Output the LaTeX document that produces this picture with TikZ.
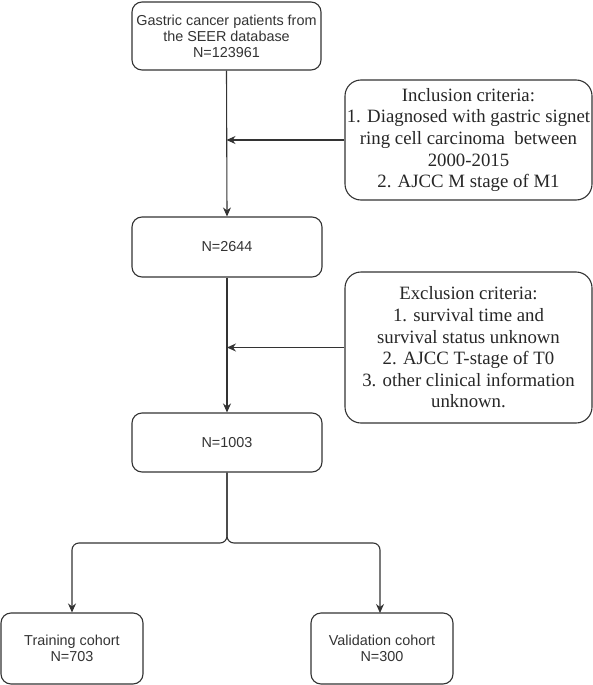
\documentclass[tikz,border=0pt]{standalone}
\usepackage{fontspec}
\setmainfont{Liberation Serif}
\newfontfamily\arialf{Liberation Sans}
\usetikzlibrary{arrows.meta}
\begin{document}
\begin{tikzpicture}[x=1pt,y=1pt,
  line width=1.1pt,
  sbox/.style={draw=black!80, rounded corners=10pt, align=center, font=\arialf\fontsize{14.4}{16}\selectfont, text=black!80, inner sep=0pt},
  cbox/.style={draw=black!80, rounded corners=16pt, align=center, font=\fontsize{18.8}{21.6}\selectfont, text=black!85, inner sep=0pt},
  arr/.style={draw=black!80, -{Stealth[length=9pt,width=8pt]}},
  ln/.style={draw=black!80}]
\useasboundingbox (0,0) rectangle (593,-685);
\node[sbox, minimum width=189, minimum height=68] (b1) at (226.5,-36) {Gastric cancer patients from\\the SEER database\\N=123961};
\node[sbox, minimum width=190, minimum height=60] (b2) at (227,-247) {N=2644};
\node[sbox, minimum width=190, minimum height=59] (b3) at (227,-442.5) {N=1003};
\node[cbox, minimum width=247, minimum height=120] (inc) at (468.5,-140) {Inclusion criteria:\\1. Diagnosed with gastric signet\\ring cell carcinoma\ \ between\\2000-2015\\2. AJCC M stage of M1};
\node[cbox, minimum width=247, minimum height=151] (exc) at (468.5,-347.5) {Exclusion criteria:\\1. survival time and\\survival status unknown\\2. AJCC T-stage of T0\\3. other clinical information\\unknown.};
\node[sbox, minimum width=142, minimum height=71] (tr) at (72,-648.5) {Training cohort\\N=703};
\node[sbox, minimum width=142, minimum height=71] (va) at (382,-648.5) {Validation cohort\\N=300};
\coordinate (j1) at (b1.south |- inc.west);
\coordinate (j2) at (b2.south |- exc.west);
\draw[arr] (b1.south) -- (b2.north);
\draw[arr] (b2.south) -- (b3.north);
\draw[arr] (inc.west) -- (j1);
\draw[arr] (exc.west) -- (j2);
\coordinate (sp) at (227,-543);
\draw[arr, rounded corners=7pt] (b3.south) -- (sp) -- (sp -| tr.north) -- (tr.north);
\draw[arr, rounded corners=7pt] (b3.south) -- (sp) -- (sp -| 380,0) -- (380,-613);
\end{tikzpicture}
\end{document}
